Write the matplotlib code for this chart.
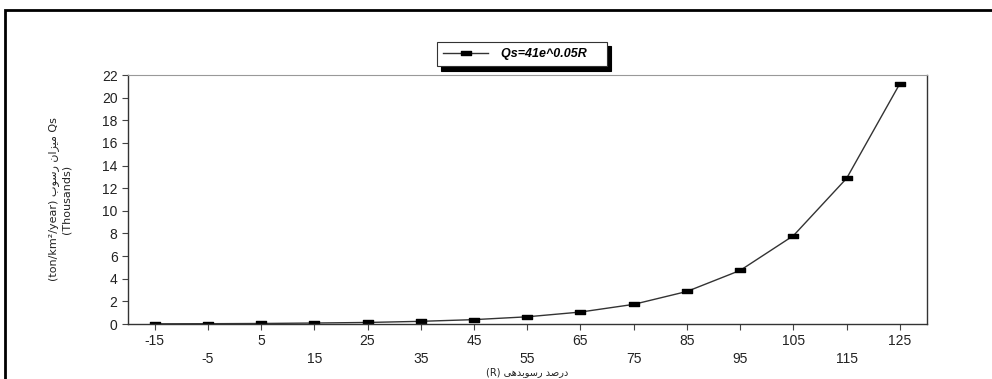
# Qs = 41e^0.05R  -- sediment yield curve
import matplotlib
matplotlib.use("Agg")
import matplotlib.pyplot as plt
from matplotlib.path import Path
from matplotlib.patches import Rectangle

# data (thousands of ton/km2/year)
r_values = ["-15", "-5", "5", "15", "25", "35", "45", "55",
            "65", "75", "85", "95", "105", "115", "125"]
qs_values = [0.02, 0.03, 0.05, 0.09, 0.14, 0.24, 0.39, 0.64,
             1.06, 1.74, 2.88, 4.74, 7.81, 12.88, 21.25]
y_ticks = list(range(0, 23, 2))

legend_text = "Qs=41e^0.05R"
ylabel_fa = "میزان رسوب"
xlabel_fa = "درصد رسوبدهی"

# minimal persian shaping (matplotlib has no bidi / joining)
FORMS = {
    "ا": ("\uFE8D", "\uFE8E", None, None),
    "ب": ("\uFE8F", "\uFE90", "\uFE91", "\uFE92"),
    "د": ("\uFEA9", "\uFEAA", None, None),
    "ر": ("\uFEAD", "\uFEAE", None, None),
    "ز": ("\uFEAF", "\uFEB0", None, None),
    "س": ("\uFEB1", "\uFEB2", "\uFEB3", "\uFEB4"),
    "ص": ("\uFEB9", "\uFEBA", "\uFEBB", "\uFEBC"),
    "م": ("\uFEE1", "\uFEE2", "\uFEE3", "\uFEE4"),
    "ن": ("\uFEE5", "\uFEE6", "\uFEE7", "\uFEE8"),
    "ه": ("\uFEE9", "\uFEEA", "\uFEEB", "\uFEEC"),
    "و": ("\uFEED", "\uFEEE", None, None),
    "ی": ("\uFEEF", "\uFEF0", "\uFEF3", "\uFEF4"),
}


def shape(word_text):
    out = []
    for word in word_text.split(" "):
        chars = []
        for i, c in enumerate(word):
            f = FORMS[c]
            prev_joins = i > 0 and FORMS[word[i - 1]][2] is not None
            next_joins = i < len(word) - 1 and f[2] is not None
            if prev_joins and next_joins:
                chars.append(f[3])
            elif prev_joins:
                chars.append(f[1])
            elif next_joins:
                chars.append(f[2])
            else:
                chars.append(f[0])
        out.append("".join(chars))
    return " ".join(out)[::-1]


dash = Path([(-1, -0.45), (1, -0.45), (1, 0.45), (-1, 0.45), (-1, -0.45)],
            [Path.MOVETO, Path.LINETO, Path.LINETO, Path.LINETO, Path.CLOSEPOLY])

plt.rcParams["font.family"] = ["Liberation Sans", "DejaVu Sans"]

fig = plt.figure(figsize=(9.92, 3.79), dpi=100)
ax = fig.add_axes([0.129, 0.145, 0.805, 0.657])

x = list(range(len(r_values)))
ax.plot(x, qs_values, color="#333333", linewidth=1.0, marker=dash,
        markersize=6.5, markerfacecolor="black", markeredgecolor="black",
        label=legend_text)

ax.set_xlim(-0.5, len(r_values) - 0.5)
ax.set_ylim(0, 22)
ax.set_yticks(y_ticks)
ax.set_yticklabels([str(v) for v in y_ticks], fontsize=10, color="#222222")
ax.set_xticks(x)
ax.set_xticklabels([lab if i % 2 == 0 else "\n" + lab for i, lab in enumerate(r_values)],
                   fontsize=10, color="#222222", linespacing=1.35)
ax.tick_params(axis="both", direction="out", length=4, width=0.8, color="#444444")
ax.tick_params(axis="x", pad=3)

for side in ["left", "bottom", "right"]:
    ax.spines[side].set_color("#333333")
    ax.spines[side].set_linewidth(1.0)
ax.spines["top"].set_color("#999999")
ax.spines["top"].set_linewidth(0.8)

ax.set_xlabel("(R) " + shape(xlabel_fa), fontsize=7, family="DejaVu Sans",
              labelpad=1, color="#222222")
ax.set_ylabel("(ton/km²/year) " + shape(ylabel_fa) + " Qs\n(Thousands)",
              fontsize=8, family="DejaVu Sans", labelpad=22, color="#222222",
              linespacing=1.3)

leg = fig.legend(loc="center", bbox_to_anchor=(0.526, 0.857), fancybox=False,
                 shadow={"color": "black", "alpha": 1, "ox": 3, "oy": -3},
                 framealpha=1, edgecolor="#333333", handlelength=3.6,
                 handletextpad=1.0, borderpad=0.5, borderaxespad=0,
                 prop={"style": "italic", "weight": "bold", "size": 9})
leg.get_frame().set_linewidth(0.8)
leg.get_texts()[0].set_text(legend_text + "    ")

# outer frame of the scanned page
fig.patches.append(Rectangle((0.005, -0.05), 1.2, 1.024, transform=fig.transFigure,
                             fill=False, edgecolor="black", linewidth=2.0))

fig.savefig("out.png", dpi=100)
